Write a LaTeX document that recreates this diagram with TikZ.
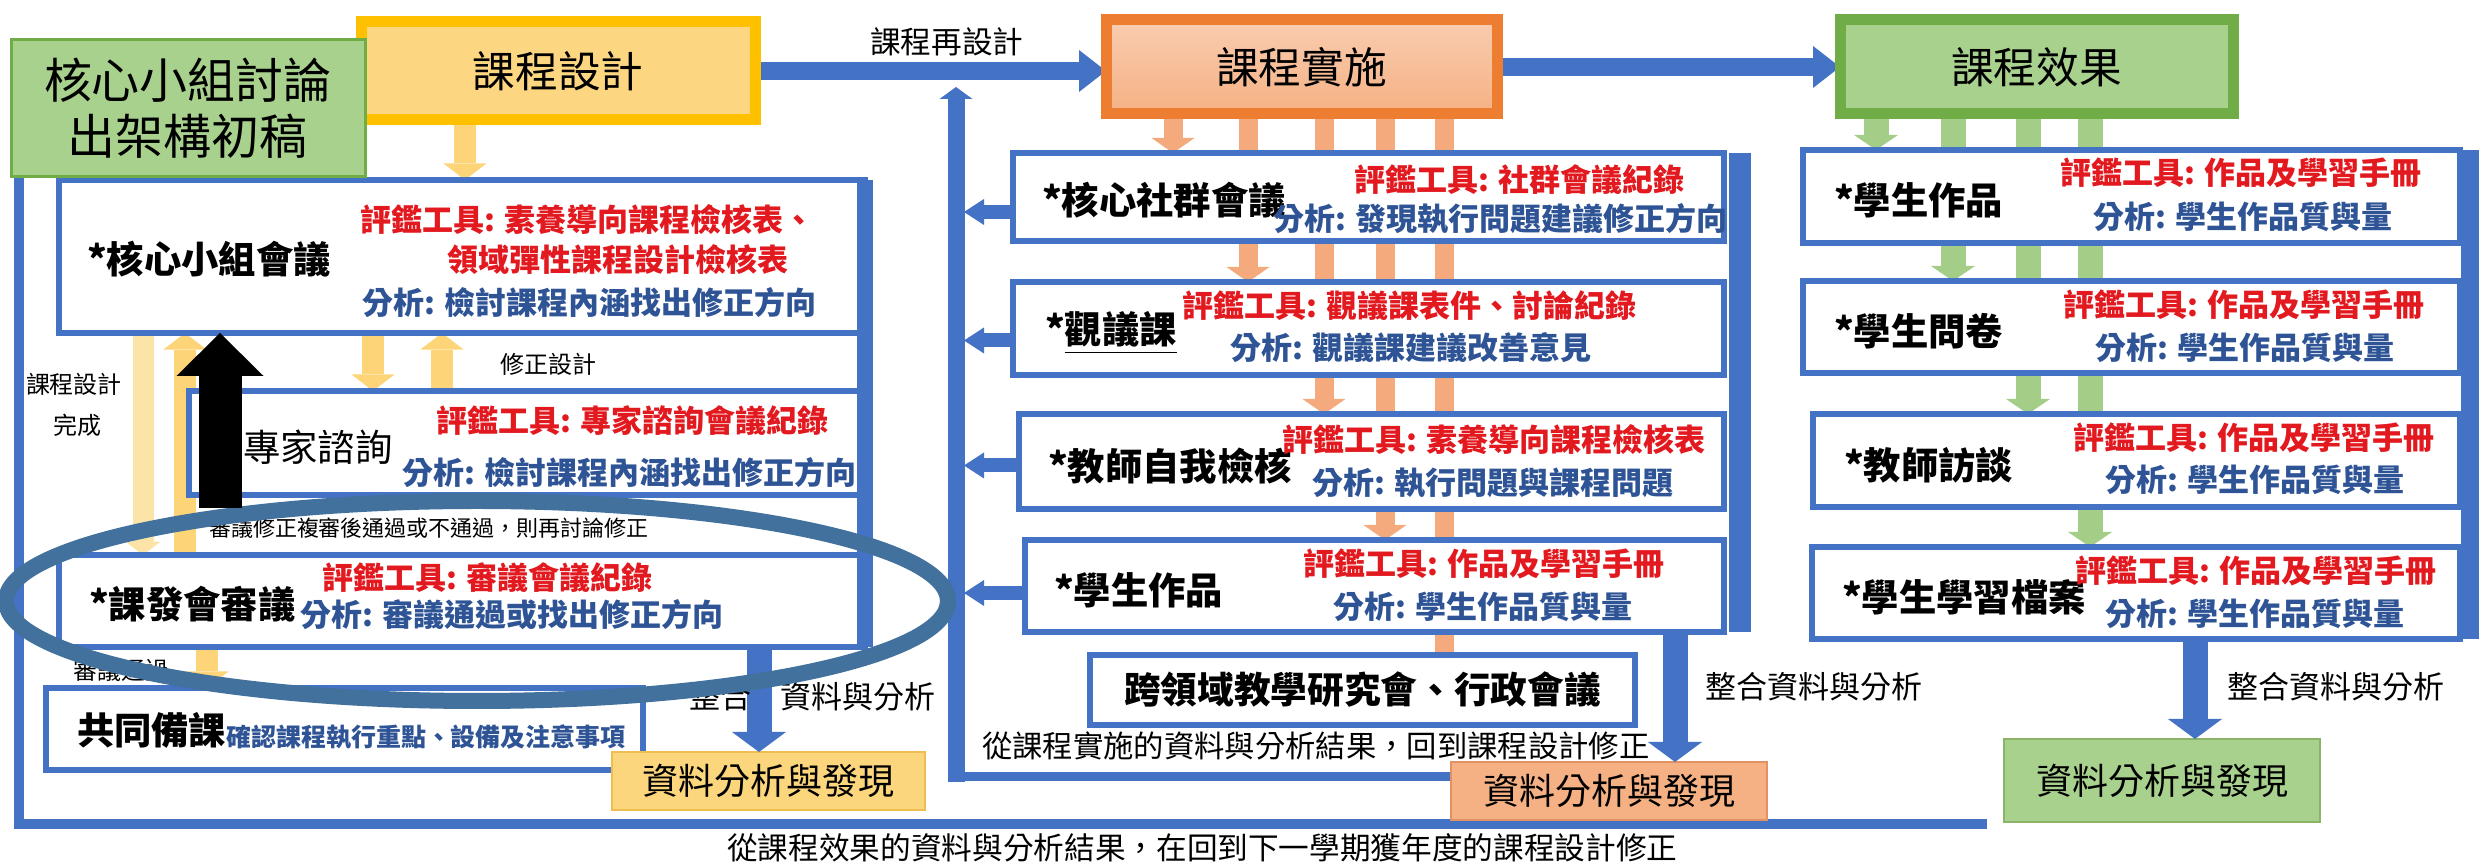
\documentclass[tikz,border=0pt]{standalone}
\usepackage{fontspec}
\setmainfont{Noto Sans CJK TC}
\usetikzlibrary{arrows.meta}
\pgfdeclarelayer{bg}
\pgfsetlayers{bg,main}
\definecolor{bblue}{RGB}{68,114,196}
\definecolor{goldb}{RGB}{255,192,0}
\definecolor{goldf}{RGB}{252,214,128}
\definecolor{orgb}{RGB}{237,125,49}
\definecolor{orgf}{RGB}{245,177,131}
\definecolor{orgfl}{RGB}{249,204,176}
\definecolor{grnb}{RGB}{112,173,71}
\definecolor{grnf}{RGB}{169,209,142}
\definecolor{ylwa}{RGB}{253,212,120}
\definecolor{ylwp}{RGB}{252,228,168}
\definecolor{orga}{RGB}{244,170,125}
\definecolor{grna}{RGB}{164,205,136}
\definecolor{tred}{RGB}{226,26,32}
\definecolor{tblue}{RGB}{46,84,150}
\definecolor{ellc}{RGB}{65,113,156}
\definecolor{res1f}{RGB}{252,214,125}
\definecolor{res1b}{RGB}{240,190,80}
\definecolor{res2b}{RGB}{225,145,100}
\definecolor{res3b}{RGB}{140,180,105}
\newcommand\fsz[1]{\fontsize{#1pt}{#1pt}\selectfont}
\newcommand\bxat[7]{\node[#1,anchor=north west,minimum width={(#5-#3)*0.3pt},minimum height={(#6-#4)*0.3pt}] (#2) at (#3,#4) {#7};}
\begin{document}
\begin{tikzpicture}[x=0.3pt,y=-0.3pt,
  bx/.style={draw=bblue,line width=1.8pt,fill=white,inner sep=0pt,outer sep=0pt},
  tb/.style={line width=3.3pt,inner sep=0pt,outer sep=0pt,font=\fsz{12.8}},
  rb/.style={line width=0.6pt,inner sep=0pt,outer sep=0pt,font=\fsz{10.8}},
  tx/.style={inner sep=0pt,outer sep=0pt,anchor=west},
  lab/.style={tx,font=\bfseries\fsz{11.2}},
  rt/.style={tx,font=\bfseries\fsz{9.3},text=tred},
  bt/.style={tx,font=\bfseries\fsz{9.3},text=tblue},
  sm/.style={tx,font=\fsz{7.2}},
  captx/.style={tx,font=\fsz{9.2}},
  yarr/.style={draw=ylwa,line width=6.8pt,-{Triangle[length=5pt,width=13pt,line width=0pt]}},
  yarrp/.style={draw=ylwp,line width=6.3pt,-{Triangle[length=4pt,width=10.5pt,line width=0pt]}},
  oarr/.style={draw=orga,line width=5.7pt,-{Triangle[length=4.5pt,width=12.9pt,line width=0pt]}},
  obar/.style={draw=orga,line width=5.7pt},
  garr/.style={draw=grna,line width=7.5pt,-{Triangle[length=4.5pt,width=13.2pt,line width=0pt]}},
  barr/.style={draw=bblue,line width=5.4pt,-{Triangle[length=8.1pt,width=12.6pt,line width=0pt]}},
  larr/.style={draw=bblue,line width=4.2pt,-{Triangle[length=6pt,width=7.8pt,line width=0pt]}},
  darr/.style={draw=bblue,line width=7.5pt,-{Triangle[length=6pt,width=16.2pt,line width=0pt]}},
  uarr/.style={draw=bblue,line width=5.1pt,-{Triangle[length=3.6pt,width=9.9pt,line width=0pt]}},
  lthin/.style={draw=bblue,line width=2.7pt,line cap=rect},
  outerl/.style={draw=bblue,line width=3pt,line join=miter},
  blk/.style={draw=black,line width=12.9pt,-{Triangle[length=12.9pt,width=26.1pt,line width=0pt]}}
]
\begin{pgfonlayer}{bg}
\fill[white] (0,0) rectangle (2479,864);
\end{pgfonlayer}
\useasboundingbox (0,0) rectangle (2479,864);

% top boxes
\bxat{tb,draw=goldb,fill=goldf}{des}{361}{22}{755}{120}{課程設計}
\bxat{tb,draw=orgb,top color=orgfl,bottom color=orgf}{imp}{1106}{20}{1497}{114}{課程實施}
\bxat{tb,draw=grnb,fill=grnf}{eff}{1840}{20}{2233}{114}{課程效果}

% left column boxes
\bxat{bx}{A}{59}{180}{865}{333}{}
\bxat{bx}{B}{189}{391}{865}{495}{}
\bxat{bx}{C}{59}{555}{865}{647}{}
\bxat{bx}{D}{46}{688}{643}{770}{}
% middle column boxes
\bxat{bx}{M1}{1013}{153}{1724}{241}{}
\bxat{bx}{M2}{1013}{282}{1724}{375}{}
\bxat{bx}{M3}{1019}{414}{1724}{509}{}
\bxat{bx}{M4}{1025}{540}{1724}{632}{}
\bxat{bx,font=\bfseries\fsz{11}}{M5}{1090}{655}{1635}{725}{跨領域教學研究會、行政會議}
% right column boxes
\bxat{bx}{R1}{1803}{150}{2460}{243}{}
\bxat{bx}{R2}{1803}{281}{2460}{373}{}
\bxat{bx}{R3}{1813}{414}{2460}{507}{}
\bxat{bx}{R4}{1812}{547}{2460}{639}{}
% result boxes
\bxat{rb,draw=res1b,fill=res1f}{res1}{612}{752}{925}{810}{資料分析與發現}
\bxat{rb,draw=res2b,fill=orgf}{res2}{1451}{762}{1767}{820}{資料分析與發現}
\bxat{rb,draw=res3b,fill=grnf}{res3}{2004}{739}{2320}{822}{資料分析與發現}

% column coordinates
\coordinate (cy1) at (465,0);
\coordinate (cy2) at (373,0);
\coordinate (cy3) at (442,0);
\coordinate (cy4) at (143,0);
\coordinate (cy5) at (185,0);
\coordinate (cy6) at (207,0);
\coordinate (co1) at (1173,0);
\coordinate (co2) at (1248,0);
\coordinate (co3) at (1324,0);
\coordinate (co4) at (1385,0);
\coordinate (co5) at (1444,0);
\coordinate (cg1) at (1876,0);
\coordinate (cg2) at (1953,0);
\coordinate (cg3) at (2028,0);
\coordinate (cg4) at (2090,0);
\coordinate (vl) at (964,0);
\coordinate (vlc) at (956,0);
\coordinate (vtop) at (956,87);
\coordinate (vbot) at (956,782);
\coordinate (lb) at (865,0);
\coordinate (mb) at (1740,0);
\coordinate (rbar) at (2470,0);
\coordinate (dl) at (759,0);
\coordinate (dm) at (1675,0);
\coordinate (dr) at (2195,0);
\coordinate (olEnd) at (1987,824);
\coordinate (ol1) at (19,824);
\coordinate (ol2) at (19,71);
\coordinate (bk1) at (220,508);
\coordinate (m1a) at ([yshift=-4.5pt]M1.west);
\coordinate (m2a) at ([yshift=-3.6pt]M2.west);
\coordinate (m3a) at ([yshift=-1.2pt]M3.west);
\coordinate (m4a) at ([yshift=-2.1pt]M4.west);
\coordinate (lp1) at ([yshift=4.2pt]res2.west);

\begin{pgfonlayer}{bg}
% outer loop
\draw[outerl] (olEnd) -- (ol1) -- (ol2) -- (des.west);
% top arrows
\draw[barr] (des.east) -- (imp.west |- des.east);
\draw[barr] (imp.east) -- (eff.west |- imp.east);
% yellow arrows
\draw[yarr] (des.south -| cy1) -- (A.north -| cy1);
\draw[yarr] (A.south -| cy2) -- (B.north -| cy2);
\draw[yarr] (B.north -| cy3) -- (A.south -| cy3);
\draw[yarrp] (A.south -| cy4) -- (C.north -| cy4);
\draw[yarr] (C.north -| cy5) -- (A.south -| cy5);
\draw[yarr] (C.south -| cy6) -- (D.north -| cy6);
% orange arrows
\draw[oarr] (imp.south -| co1) -- (M1.north -| co1);
\draw[oarr] (imp.south -| co2) -- (M2.north -| co2);
\draw[oarr] (imp.south -| co3) -- (M3.north -| co3);
\draw[oarr] (imp.south -| co4) -- (M4.north -| co4);
\draw[obar] (imp.south -| co5) -- (M5.north -| co5);
% green arrows
\draw[garr] (eff.south -| cg1) -- (R1.north -| cg1);
\draw[garr] (eff.south -| cg2) -- (R2.north -| cg2);
\draw[garr] (eff.south -| cg3) -- (R3.north -| cg3);
\draw[garr] (eff.south -| cg4) -- (R4.north -| cg4);
% feedback arrows from middle boxes
\draw[larr] (m1a) -- (m1a -| vl);
\draw[larr] (m2a) -- (m2a -| vl);
\draw[larr] (m3a) -- (m3a -| vl);
\draw[larr] (m4a) -- (m4a -| vl);
% loop back to design
\draw[lthin] (lp1) -- (lp1 -| vlc);
\draw[uarr] (vbot) -- (vtop);
\end{pgfonlayer}

% brackets and integration arrows
\draw[draw=bblue,line width=4.8pt] (A.north -| lb) -- (C.south -| lb);
\draw[draw=bblue,line width=6.6pt] (M1.north -| mb) -- (M4.south -| mb);
\draw[draw=bblue,line width=5.7pt] (R1.north -| rbar) -- (R4.south -| rbar);
\draw[darr] (C.south -| dl) -- (res1.north -| dl);
\draw[darr] (M4.south -| dm) -- (res2.north -| dm);
\draw[darr] (R4.south -| dr) -- (res3.north -| dr);

% texts left column
\node[lab] (tA) at (87,259) {*核心小組會議};
\node[rt] (tA1) at (360,220) {評鑑工具: 素養導向課程檢核表、};
\node[rt] (tA2) at (447,260) {領域彈性課程設計檢核表};
\node[bt] (tA3) at (362,303) {分析: 檢討課程內涵找出修正方向};
\node[tx,font=\fsz{11.2}] (tB) at (243,447) {專家諮詢};
\node[rt] (tB1) at (436,421) {評鑑工具: 專家諮詢會議紀錄};
\node[bt] (tB2) at (402,473) {分析: 檢討課程內涵找出修正方向};
\node[lab] (tC) at (89,604) {*課發會審議};
\node[rt] (tC1) at (322,578) {評鑑工具: 審議會議紀錄};
\node[bt] (tC2) at (300,615) {分析: 審議通過或找出修正方向};
\node[lab] (tD) at (77,730) {共同備課};
\node[bt,font=\bfseries\fsz{7.5}] (tD1) at (226,737) {確認課程執行重點、設備及注意事項};
\node[sm] (l1) at (500,364) {修正設計};
\node[sm] (l2) at (26,384) {課程設計};
\node[sm] (l3) at (53,425) {完成};
\node[tx,font=\fsz{6.6}] (l4) at (209,528) {審議修正複審後通過或不通過，則再討論修正};
\node[sm] (l5) at (73,670) {審議通過};
\node[tx,font=\fsz{9.3}] (l6) at (689,697) {整合};
\node[tx,font=\fsz{9.3}] (l7) at (780,697) {資料與分析};
\node[captx] (l8) at (870,42) {課程再設計};

% texts middle column
\node[lab] (tM1) at (1042,200) {*核心社群會議};
\node[rt] (tM1a) at (1354,180) {評鑑工具: 社群會議紀錄};
\node[bt] (tM1b) at (1273,219) {分析: 發現執行問題建議修正方向};
\node[lab] (tM2) at (1045,333) {*\underline{觀議課}};
\node[rt] (tM2a) at (1182,306) {評鑑工具: 觀議課表件、討論紀錄};
\node[bt] (tM2b) at (1230,348) {分析: 觀議課建議改善意見};
\node[lab] (tM3) at (1048,466) {*教師自我檢核};
\node[rt] (tM3a) at (1282,440) {評鑑工具: 素養導向課程檢核表};
\node[bt] (tM3b) at (1312,483) {分析: 執行問題與課程問題};
\node[lab] (tM4) at (1054,590) {*學生作品};
\node[rt] (tM4a) at (1303,564) {評鑑工具: 作品及學習手冊};
\node[bt] (tM4b) at (1333,607) {分析: 學生作品質與量};
\node[captx,font=\fsz{9.1}] (l9) at (982,746) {從課程實施的資料與分析結果，回到課程設計修正};
\node[tx,font=\fsz{9.3}] (l10) at (1705,687) {整合資料與分析};

% texts right column
\node[lab] (tR1) at (1834,200) {*學生作品};
\node[rt] (tR1a) at (2060,173) {評鑑工具: 作品及學習手冊};
\node[bt] (tR1b) at (2093,217) {分析: 學生作品質與量};
\node[lab] (tR2) at (1834,331) {*學生問卷};
\node[rt] (tR2a) at (2063,305) {評鑑工具: 作品及學習手冊};
\node[bt] (tR2b) at (2095,348) {分析: 學生作品質與量};
\node[lab] (tR3) at (1844,465) {*教師訪談};
\node[rt] (tR3a) at (2073,438) {評鑑工具: 作品及學習手冊};
\node[bt] (tR3b) at (2105,480) {分析: 學生作品質與量};
\node[lab] (tR4) at (1842,597) {*學生學習檔案};
\node[rt] (tR4a) at (2075,571) {評鑑工具: 作品及學習手冊};
\node[bt] (tR4b) at (2105,614) {分析: 學生作品質與量};
\node[tx,font=\fsz{9.3}] (l11) at (2227,687) {整合資料與分析};

% bottom caption
\node[captx] (l12) at (727,848) {從課程效果的資料與分析結果，在回到下一學期獲年度的課程設計修正};

% annotations on top
\draw[draw=ellc,line width=4.8pt] (477,601) ellipse [x radius=471, y radius=100];
\draw[blk] (bk1) -- (A.south -| bk1);
\bxat{draw=grnb,fill=grnf,line width=0.9pt,inner sep=0pt,outer sep=0pt,align=center,font=\fontsize{14.4pt}{16.8pt}\selectfont}{ov}{11}{40}{365}{177}{核心小組討論\\出架構初稿}
\end{tikzpicture}
\end{document}
